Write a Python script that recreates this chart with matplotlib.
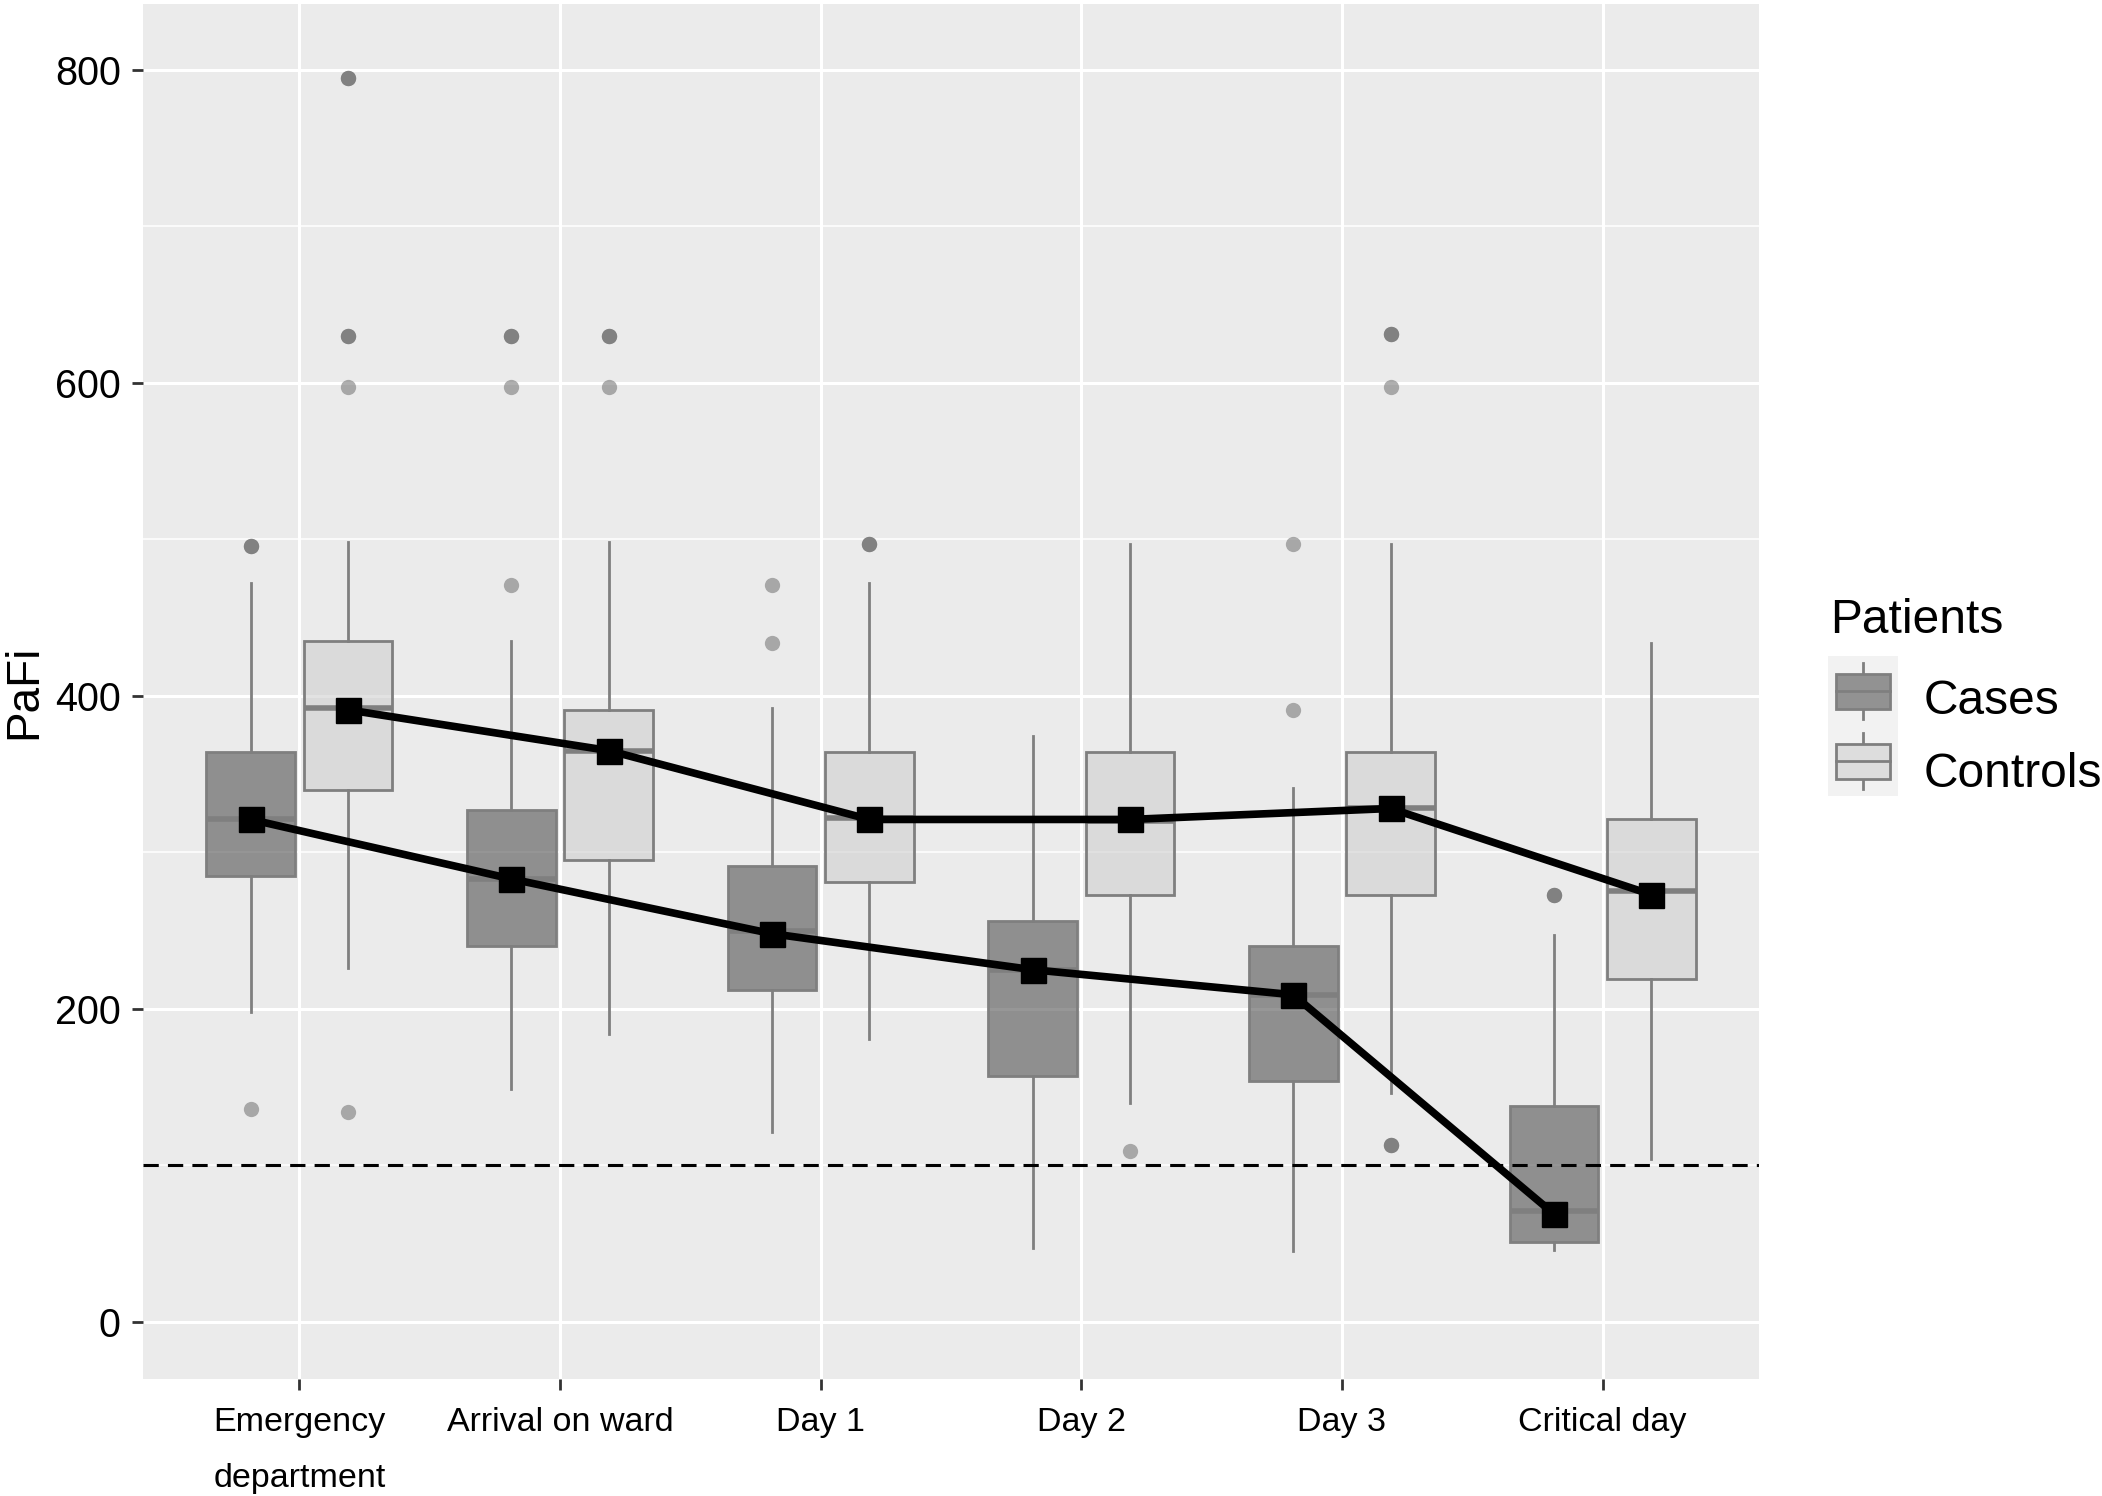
import numpy as np
import matplotlib.pyplot as plt
from matplotlib.patches import Rectangle

plt.rcParams['font.family'] = ['Liberation Sans', 'DejaVu Sans']

W, H = 2102, 1496

categories = ["Emergency\ndepartment", "Arrival on ward", "Day 1", "Day 2", "Day 3", "Critical day"]

# Cases (box stats)
cases_q1 = [285, 240, 212, 157, 154, 51]
cases_med = [321, 283, 250, 225, 209, 71]
cases_q3 = [364, 327, 291, 256, 240, 138]
cases_lo = [198, 149, 121, 47, 45, 46]
cases_hi = [472, 435, 392, 374, 341, 247]
cases_mean = [321, 283, 248, 225, 209, 69]
cases_out = [[496, 496, 496, 136], [630, 630, 630, 597, 471], [471, 434], [],
             [497, 391], [273, 273, 273]]

# Controls
controls_q1 = [340, 295, 281, 273, 273, 219]
controls_med = [392, 365, 322, 320, 328, 275]
controls_q3 = [435, 391, 364, 364, 364, 321]
controls_lo = [226, 184, 181, 140, 146, 104]
controls_hi = [498, 498, 472, 497, 497, 434]
controls_mean = [391, 365, 321, 321, 328, 273]
controls_out = [[795, 795, 795, 630, 630, 630, 597, 134], [630, 630, 630, 597],
                [497, 497, 497], [109], [631, 631, 631, 597, 113, 113, 113], []]

threshold = 100

EDGE = '#7f7f7f'
CASE_FILL = (0.32, 0.32, 0.32, 0.6)
CTRL_FILL = (0.81, 0.81, 0.81, 0.6)


def make_stats(q1, med, q3, lo, hi, out):
    return [dict(q1=a, med=b, q3=c, whislo=d, whishi=e, fliers=f)
            for a, b, c, d, e, f in zip(q1, med, q3, lo, hi, out)]


fig = plt.figure(figsize=(W / 100, H / 100), dpi=100)
ax = fig.add_axes([143 / W, 1 - 1379 / H, (1759 - 143) / W, (1379 - 4) / H])
ax.set_facecolor('#ebebeb')
for s in ax.spines.values():
    s.set_visible(False)

x = np.arange(len(categories))
off = 0.187
bw = 0.34

groups = [
    (make_stats(cases_q1, cases_med, cases_q3, cases_lo, cases_hi, cases_out), -off, CASE_FILL),
    (make_stats(controls_q1, controls_med, controls_q3, controls_lo, controls_hi, controls_out), off, CTRL_FILL),
]
for st, pos, fill in groups:
    ax.bxp(st, positions=x + pos, widths=bw, patch_artist=True, showcaps=False,
           manage_ticks=False, zorder=3,
           boxprops=dict(facecolor=fill, edgecolor=EDGE, linewidth=2),
           whiskerprops=dict(color=EDGE, linewidth=2),
           medianprops=dict(color=EDGE, linewidth=4),
           flierprops=dict(marker='o', markerfacecolor='#7a7a7a', markeredgecolor='none',
                           markersize=11, alpha=0.6))

ax.axhline(threshold, color='black', lw=2.2, ls=(0, (5, 3)), zorder=5)

ax.plot(x - off, cases_mean, color='black', lw=5.5, marker='s', ms=18, zorder=6)
ax.plot(x + off, controls_mean, color='black', lw=5.5, marker='s', ms=18, zorder=6)

ax.set_xlim(-0.6, 5.6)
ax.set_ylim(-36.5, 842)
ax.set_xticks(x)
ax.set_xticklabels(categories)
ax.set_yticks([0, 200, 400, 600, 800])
ax.set_yticks([100, 300, 500, 700], minor=True)
ax.set_axisbelow(True)
ax.grid(which='major', color='white', lw=2.2)
ax.grid(which='minor', axis='y', color='white', lw=1.1)
ax.tick_params(axis='both', which='major', length=8, width=2, color='#333333')
ax.tick_params(axis='y', which='minor', length=0)
ax.tick_params(axis='y', labelsize=28.5, pad=8)
ax.tick_params(axis='x', labelsize=24.5, pad=12)
for t in ax.get_xticklabels():
    t.set_linespacing(2.05)

fig.text(24 / W, 1 - 692 / H, 'PaFi', rotation=90, fontsize=33, va='center', ha='center')

# legend
fig.text(1830 / W, 1 - 633 / H, 'Patients', fontsize=34.5, va='baseline')
fig.text(1924 / W, 1 - 714 / H, 'Cases', fontsize=34.5, va='baseline')
fig.text(1924 / W, 1 - 787 / H, 'Controls', fontsize=34.5, va='baseline')

lax = fig.add_axes([1828 / W, 1 - 796 / H, 70 / W, 140 / H])
lax.set_facecolor('#f2f2f2')
lax.set_xlim(0, 1)
lax.set_ylim(0, 2)
lax.set_xticks([])
lax.set_yticks([])
for s in lax.spines.values():
    s.set_visible(False)
for base, fill in [(1, CASE_FILL), (0, CTRL_FILL)]:
    lax.plot([0.5, 0.5], [base + 0.1, base + 0.9], color=EDGE, lw=2)
    lax.add_patch(Rectangle((0.12, base + 0.25), 0.76, 0.5, facecolor='#f2f2f2',
                            edgecolor='none', zorder=2))
    lax.add_patch(Rectangle((0.12, base + 0.25), 0.76, 0.5, facecolor=fill,
                            edgecolor=EDGE, lw=2, zorder=3))
    lax.plot([0.12, 0.88], [base + 0.5, base + 0.5], color=EDGE, lw=2, zorder=4)

fig.savefig('out.png', dpi=100)
